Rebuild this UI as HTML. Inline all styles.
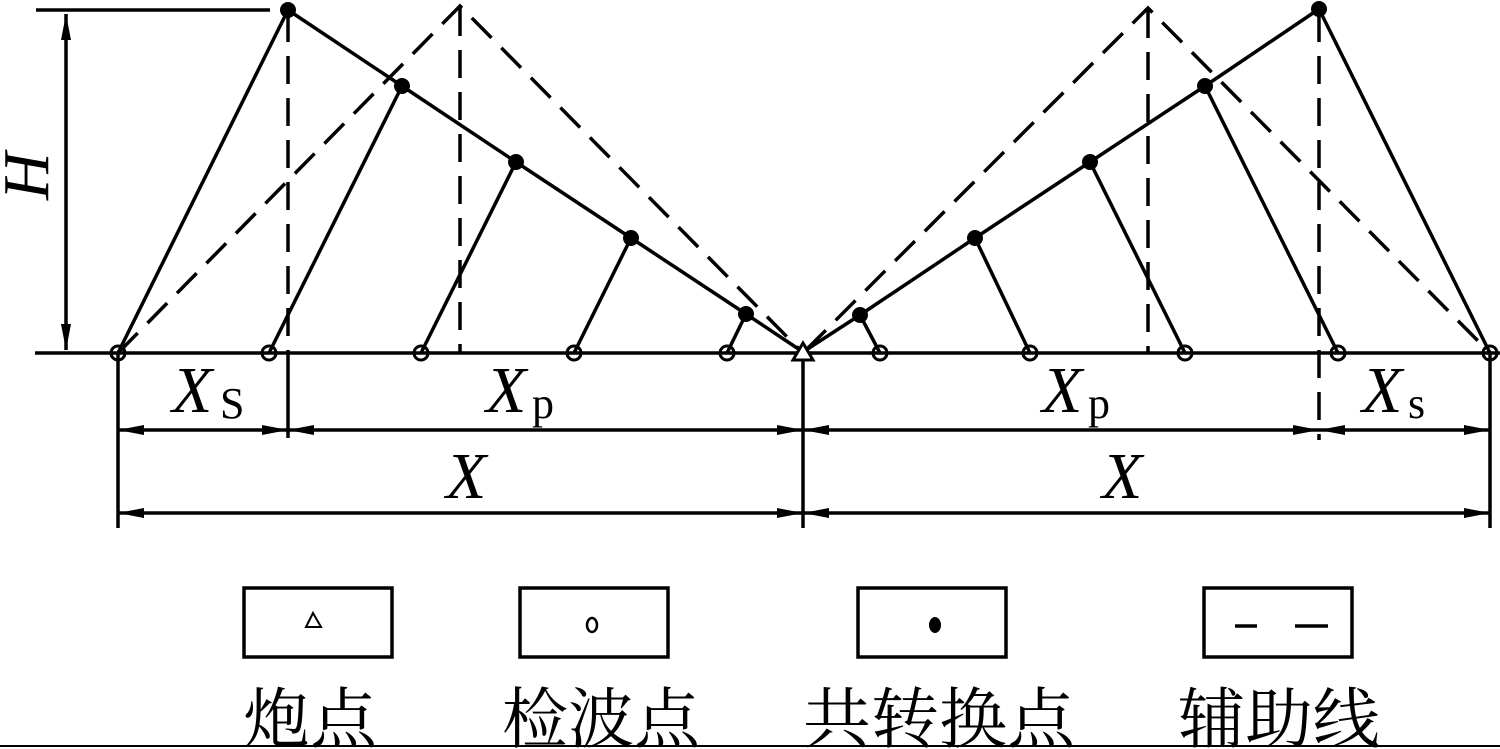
<!DOCTYPE html>
<html><head><meta charset="utf-8"><style>
html,body{margin:0;padding:0;background:#fff;width:1500px;height:749px;overflow:hidden}
svg{display:block}
text{font-family:"Liberation Serif","Noto Serif CJK SC",serif;fill:#000}
</style></head><body>
<svg width="1500" height="749" viewBox="0 0 1500 749" xmlns="http://www.w3.org/2000/svg">
<defs>
<marker id="a" viewBox="0 0 26 10" refX="26" refY="5" markerWidth="26" markerHeight="10" markerUnits="userSpaceOnUse" orient="auto-start-reverse"><path d="M0,0 L26,5 L0,10 Z" fill="#000"/></marker>
</defs>
<g stroke="#000" stroke-width="3.5" fill="none">
<line x1="35" y1="353" x2="1500" y2="353"/>
<line x1="36" y1="10" x2="270" y2="10"/>
<line x1="66" y1="14" x2="66" y2="350" marker-start="url(#a)" marker-end="url(#a)"/>
<polyline points="288,10 402,86 516,162 631,238 746,314 800,350"/>
<line x1="118" y1="353" x2="288" y2="10"/>
<line x1="269" y1="353" x2="402" y2="86"/>
<line x1="421" y1="353" x2="516" y2="162"/>
<line x1="574" y1="353" x2="631" y2="238"/>
<line x1="727" y1="353" x2="746" y2="314"/>
<polyline points="1319,9 1205,86 1090,162 975,238 860,315 806,350"/>
<line x1="1490" y1="353" x2="1319" y2="9"/>
<line x1="1338" y1="353" x2="1205" y2="86"/>
<line x1="1185" y1="353" x2="1090" y2="162"/>
<line x1="1030" y1="353" x2="975" y2="238"/>
<line x1="880" y1="353" x2="860" y2="315"/>
<g stroke-dasharray="28,14">
<line x1="288" y1="14" x2="288" y2="353"/>
<polyline points="118,353 460,6 800,350"/>
<line x1="460" y1="8" x2="460" y2="353"/>
<polyline points="806,350 1148,8 1490,353"/>
<line x1="1148" y1="10" x2="1148" y2="353"/>
<line x1="1319" y1="14" x2="1319" y2="440"/>
</g>
<line x1="118" y1="353" x2="118" y2="528"/>
<line x1="288" y1="353" x2="288" y2="438"/>
<line x1="803" y1="353" x2="803" y2="528"/>
<line x1="1490" y1="353" x2="1490" y2="528"/>
<line x1="118" y1="430" x2="288" y2="430" marker-start="url(#a)" marker-end="url(#a)"/>
<line x1="288" y1="430" x2="803" y2="430" marker-start="url(#a)" marker-end="url(#a)"/>
<line x1="803" y1="430" x2="1319" y2="430" marker-start="url(#a)" marker-end="url(#a)"/>
<line x1="1319" y1="430" x2="1490" y2="430" marker-start="url(#a)" marker-end="url(#a)"/>
<line x1="118" y1="513" x2="803" y2="513" marker-start="url(#a)" marker-end="url(#a)"/>
<line x1="803" y1="513" x2="1490" y2="513" marker-start="url(#a)" marker-end="url(#a)"/>
</g>
<g fill="#000">
<circle cx="288" cy="10" r="8"/><circle cx="402" cy="86" r="8"/><circle cx="516" cy="162" r="8"/><circle cx="631" cy="238" r="8"/><circle cx="746" cy="314" r="8"/>
<circle cx="1319" cy="9" r="8"/><circle cx="1205" cy="86" r="8"/><circle cx="1090" cy="162" r="8"/><circle cx="975" cy="238" r="8"/><circle cx="860" cy="315" r="8"/>
</g>
<g fill="none" stroke="#000" stroke-width="3">
<circle cx="118" cy="353" r="7"/><circle cx="269" cy="353" r="7"/><circle cx="421" cy="353" r="7"/><circle cx="574" cy="353" r="7"/><circle cx="727" cy="353" r="7"/>
<circle cx="880" cy="353" r="7"/><circle cx="1030" cy="353" r="7"/><circle cx="1185" cy="353" r="7"/><circle cx="1338" cy="353" r="7"/><circle cx="1490" cy="353" r="7"/>
</g>
<polygon points="803,343 793,360 813,360" fill="#fff" stroke="#000" stroke-width="3"/>
<g font-size="66" font-style="italic">
<text x="172" y="412">X</text>
<text x="486" y="412">X</text>
<text x="1042" y="412">X</text>
<text x="1362" y="412">X</text>
<text x="446" y="498">X</text>
<text x="1102" y="498">X</text>
<text transform="translate(48,200) rotate(-90)">H</text>
</g>
<g font-size="44">
<text x="220" y="418">S</text>
<text x="532" y="418">p</text>
<text x="1088" y="418">p</text>
<text x="1408" y="418">s</text>
</g>
<g stroke="#000" stroke-width="3.5" fill="none">
<rect x="244" y="588" width="148" height="69"/>
<rect x="520" y="588" width="148" height="69"/>
<rect x="858" y="588" width="148" height="69"/>
<rect x="1204" y="588" width="148" height="69"/>
<polygon points="313,613 306,627 321,627" stroke-width="2"/>
<ellipse cx="592" cy="625" rx="5" ry="7" stroke-width="2.5"/>
<line x1="1235" y1="626" x2="1257" y2="626"/>
<line x1="1295" y1="626" x2="1328" y2="626"/>
</g>
<ellipse cx="935" cy="625" rx="6" ry="8" fill="#000"/>
<g font-size="66">
<text x="243" y="742" textLength="134" lengthAdjust="spacingAndGlyphs">炮点</text>
<text x="502" y="742" textLength="198" lengthAdjust="spacingAndGlyphs">检波点</text>
<text x="803" y="742" textLength="272" lengthAdjust="spacingAndGlyphs">共转换点</text>
<text x="1178" y="742" textLength="202" lengthAdjust="spacingAndGlyphs">辅助线</text>
</g>
<line x1="0" y1="746" x2="1500" y2="746" stroke="#000" stroke-width="2"/>
</svg>
</body></html>
